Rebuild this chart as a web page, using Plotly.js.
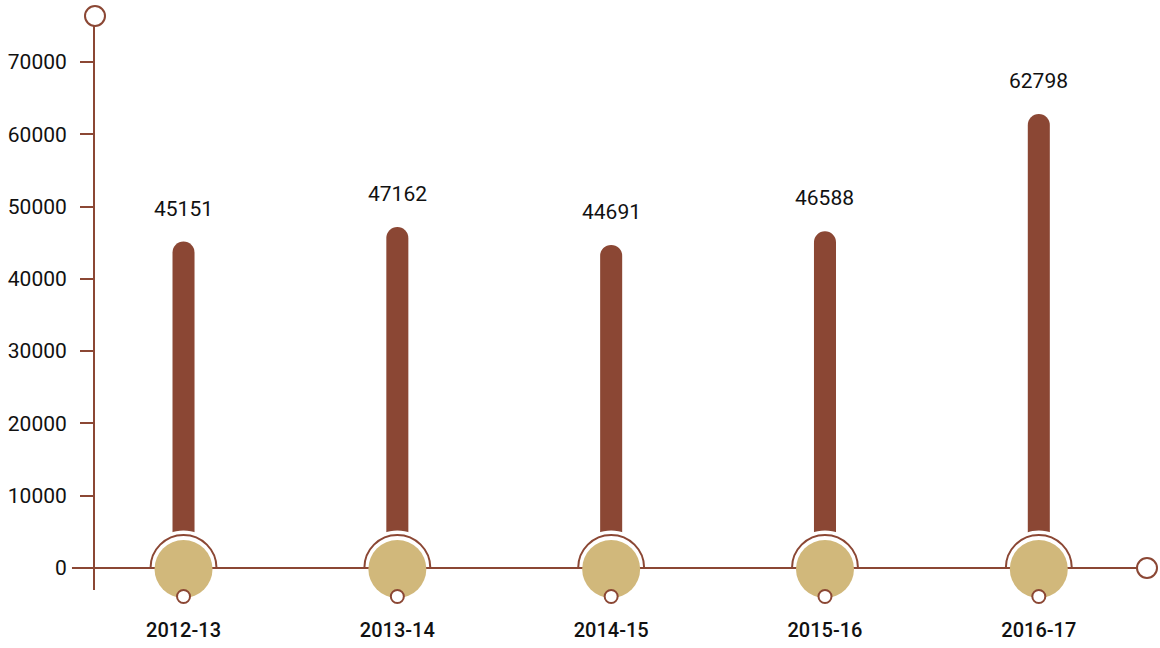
<!DOCTYPE html>
<html><head><meta charset="utf-8">
<script src="https://cdn.plot.ly/plotly-3.0.1.min.js"></script>
<style>html,body{margin:0;padding:0;background:#fff}#chart{width:1160px;height:648px}</style>
</head><body><div id="chart"></div>
<script>
const categories = ['2012-13', '2013-14', '2014-15', '2015-16', '2016-17'];
const values = [45151, 47162, 44691, 46588, 62798];
const yTickValues = [0, 10000, 20000, 30000, 40000, 50000, 60000, 70000];

const BROWN = '#8B4734';
const TAN = '#D1B87B';
const yRange = [-3043, 76349];
const y0frac = -yRange[0] / (yRange[1] - yRange[0]);

function halfArc(r, dy, close) {
  const k = 0.5523 * r;
  let p = 'M' + (-r) + ',' + dy +
    ' C' + (-r) + ',' + (dy + k) + ' ' + (-k) + ',' + (dy + r) + ' 0,' + (dy + r) +
    ' C' + k + ',' + (dy + r) + ' ' + r + ',' + (dy + k) + ' ' + r + ',' + dy;
  return close ? p + ' Z' : p;
}

const shapes = [];
shapes.push({type: 'line', xref: 'paper', yref: 'paper', x0: -0.0219, x1: 0.9905, y0: y0frac, y1: y0frac,
  line: {color: BROWN, width: 2}, layer: 'above'});
categories.forEach(c => {
  const base = {xref: 'x', yref: 'paper', xsizemode: 'pixel', ysizemode: 'pixel', xanchor: c, yanchor: y0frac, layer: 'above'};
  shapes.push(Object.assign({}, base, {type: 'path', path: halfArc(36, 1.5, true), fillcolor: '#ffffff', line: {width: 0}}));
  shapes.push(Object.assign({}, base, {type: 'path', path: halfArc(33, 0, false), fillcolor: 'rgba(0,0,0,0)', line: {color: BROWN, width: 2}}));
  shapes.push(Object.assign({}, base, {type: 'circle', x0: -29, x1: 29, y0: -30, y1: 28, fillcolor: TAN, line: {width: 0}}));
  shapes.push(Object.assign({}, base, {type: 'circle', x0: -6.5, x1: 6.5, y0: -35, y1: -22, fillcolor: '#ffffff', line: {color: BROWN, width: 2}}));
});
shapes.push({type: 'circle', xref: 'paper', yref: 'paper', xsizemode: 'pixel', ysizemode: 'pixel', xanchor: 0, yanchor: 1,
  x0: -10, x1: 10, y0: -10, y1: 10, fillcolor: '#ffffff', line: {color: BROWN, width: 2}, layer: 'above'});
shapes.push({type: 'circle', xref: 'paper', yref: 'paper', xsizemode: 'pixel', ysizemode: 'pixel', xanchor: 1, yanchor: y0frac,
  x0: -10, x1: 10, y0: -10, y1: 10, fillcolor: '#ffffff', line: {color: BROWN, width: 2}, layer: 'above'});

const annotations = categories.map((c, i) => ({
  x: c, y: values[i], xref: 'x', yref: 'y', text: String(values[i]), showarrow: false, yshift: 33,
  font: {family: 'Roboto', size: 21, color: '#111111'}
}));

const trace = {
  type: 'bar', x: categories, y: values, width: 0.103,
  marker: {color: BROWN, cornerradius: 11}, hoverinfo: 'none'
};

const layout = {
  width: 1160, height: 648,
  margin: {l: 95, r: 13, t: 16, b: 58},
  paper_bgcolor: '#ffffff', plot_bgcolor: '#ffffff',
  showlegend: false,
  xaxis: {type: 'category', range: [-0.414, 4.506], showline: false, showgrid: false, zeroline: false, ticks: '',
    tickfont: {family: 'Roboto', size: 20, color: '#111111', weight: 500}, ticklabelstandoff: 26},
  yaxis: {range: yRange, tickvals: yTickValues, tickformat: 'd', showline: true, linecolor: BROWN, linewidth: 2,
    ticks: 'outside', ticklen: 13, tickwidth: 2, tickcolor: BROWN, showgrid: false, zeroline: false,
    tickfont: {family: 'Roboto', size: 21, color: '#111111'}, ticklabelstandoff: 9},
  shapes: shapes,
  annotations: annotations
};

Plotly.newPlot('chart', [trace], layout, {displayModeBar: false, staticPlot: true});
</script></body></html>
